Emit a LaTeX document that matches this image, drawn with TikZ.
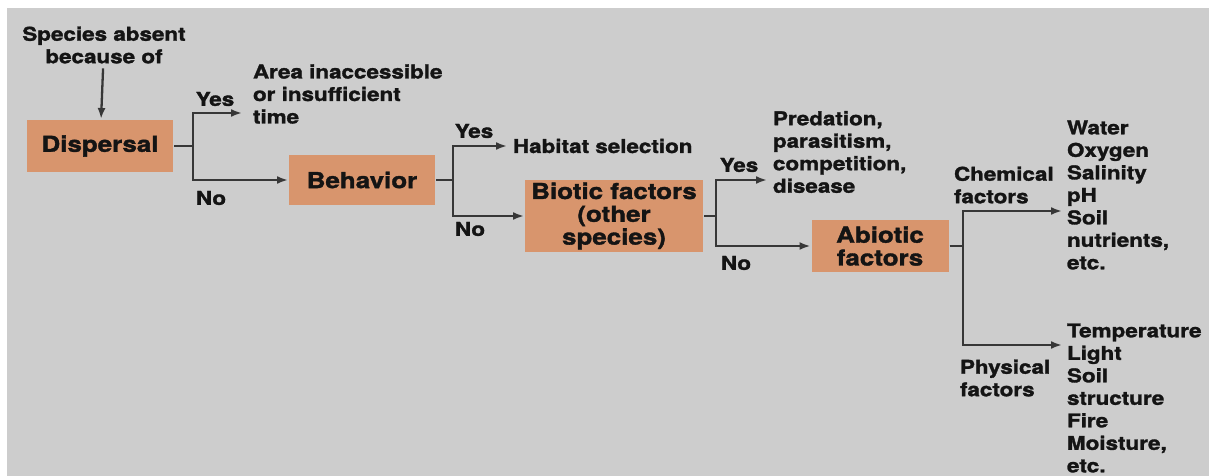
\documentclass[tikz,border=0pt]{standalone}
\usepackage{fontspec}
\setmainfont{TeX Gyre Heros}[FakeStretch=1.18, BoldFeatures={FakeBold=1.6}]
\usetikzlibrary{arrows.meta}
\definecolor{bggray}{RGB}{205,205,205}
\definecolor{boxtan}{RGB}{216,149,109}
\definecolor{ink}{RGB}{20,20,20}
\begin{document}
\begin{tikzpicture}[x=0.5pt, y=-0.5pt, line width=1pt, color=ink,
  lbl/.style={inner sep=0pt, align=left, font=\bfseries\fontsize{9.5}{11.25}\selectfont},
  box/.style={fill=boxtan, inner sep=0pt, align=center, font=\bfseries\fontsize{11}{11.4}\selectfont},
  link/.style={draw=ink!85, line width=1.15pt},
  arr/.style={link, -{Latex[length=5.5pt, width=4pt]}}]
  % ground: 1 unit = one pixel of the 1209x476 layout, y pointing down
  \fill[white] (0,0) rectangle (1209,476);
  \fill[bggray] (7,8) rectangle (1209,476);
  \useasboundingbox (0,0) rectangle (1209,476);
  % the four boxes
  \node[lbl, align=center, inner sep=2pt] (absent) at (104,45) {Species absent\\because of};
  \node[box, minimum width=73pt, minimum height=26pt] (disp) at (100,146) {Dispersal};
  \node[box, minimum width=73pt, minimum height=25pt] (beh) at (362,180) {Behavior};
  \node[box, minimum width=89pt, minimum height=36pt] (bio) at (614,216) {Biotic factors\\(other\\species)};
  \node[box, minimum width=68.5pt, minimum height=26pt] (abio) at (880,246) {Abiotic\\factors};
  % outcomes
  \node[lbl, anchor=west] (area) at (252,94) {Area inaccessible\\or insufficient\\time};
  \node[lbl, anchor=west] (habitat) at (512,146) {Habitat selection};
  \node[lbl, anchor=west] (pred) at (772,152) {Predation,\\parasitism,\\competition,\\disease};
  \node[lbl, anchor=west] (chemlist) at (1066,195) {Water\\Oxygen\\Salinity\\pH\\Soil\\nutrients,\\etc.};
  \node[lbl, anchor=west] (physlist) at (1066,398) {Temperature\\Light\\Soil\\structure\\Fire\\Moisture,\\etc.};
  % branch labels
  \node[lbl] (yes1) at (215,99) {Yes};
  \node[lbl] (no1) at (211,198) {No};
  \node[lbl] (yes2) at (474,131) {Yes};
  \node[lbl] (no2) at (470,229) {No};
  \node[lbl] (yes3) at (739,165) {Yes};
  \node[lbl] (no3) at (736,263) {No};
  \node[lbl, anchor=west] (chem) at (953,185) {Chemical\\factors};
  \node[lbl, anchor=west] (phys) at (959,378) {Physical\\factors};
  % forks and arrow ends
  \coordinate (j1) at (193,146);
  \coordinate (e1) at (242,113);
  \coordinate (j2) at (453,180);
  \coordinate (e2) at (507,146);
  \coordinate (j3) at (716,216);
  \coordinate (e3) at (767,180);
  \coordinate (j4) at (963,246);
  \coordinate (e4) at (1062,211);
  \coordinate (e5) at (1062,345);
  \draw[arr] (absent) -- (disp);
  \draw[link] (disp.east) -- (j1);
  \draw[arr] (j1) |- (e1);
  \draw[arr] (j1) |- (beh.west);
  \draw[link] (beh.east) -- (j2);
  \draw[arr] (j2) |- (e2);
  \draw[arr] (j2) |- (bio.west);
  \draw[link] (bio.east) -- (j3);
  \draw[arr] (j3) |- (e3);
  \draw[arr] (j3) |- (abio.west);
  \draw[link] (abio.east) -- (j4);
  \draw[arr] (j4) |- (e4);
  \draw[arr] (j4) |- (e5);
\end{tikzpicture}
\end{document}
